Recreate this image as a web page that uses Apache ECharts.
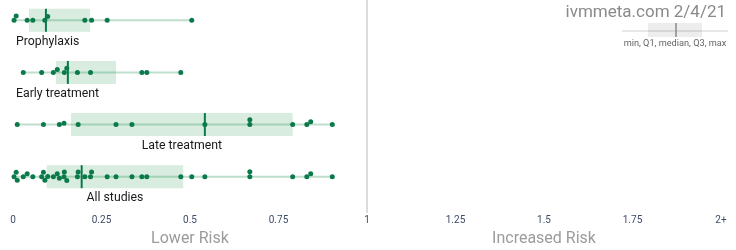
<!DOCTYPE html>
<html><head><meta charset="utf-8">
<script src="https://cdn.jsdelivr.net/npm/echarts@6/dist/echarts.min.js"></script>
<style>html,body{margin:0;padding:0;background:#fff}#c{width:736px;height:250px}</style>
</head><body><div id="c"></div>
<script>
// ---- data ----
const groupNames = ['Prophylaxis', 'Early treatment', 'Late treatment', 'All studies'];
const prophylaxis = [0.003, 0.009, 0.040, 0.056, 0.090, 0.098, 0.203, 0.222, 0.266, 0.505];
const earlyTreatment = [0.029, 0.081, 0.114, 0.125, 0.145, 0.152, 0.182, 0.219, 0.364, 0.378, 0.474];
const lateTreatment = [0.012, 0.086, 0.131, 0.144, 0.184, 0.291, 0.336, 0.542, 0.669, 0.669, 0.790, 0.830, 0.841, 0.902];
const allStudies = [0.003, 0.009, 0.012, 0.029, 0.040, 0.056, 0.081, 0.086, 0.090, 0.098, 0.114, 0.125, 0.131, 0.144, 0.145, 0.152, 0.182, 0.184, 0.203, 0.219, 0.222, 0.266, 0.291, 0.336, 0.364, 0.378, 0.474, 0.505, 0.542, 0.669, 0.669, 0.790, 0.830, 0.841, 0.902];
const q1Values = [0.045, 0.121, 0.164, 0.095];
const medianValues = [0.093, 0.155, 0.542, 0.194];
const q3Values = [0.218, 0.291, 0.790, 0.481];
const tickValues = [0, 0.25, 0.5, 0.75, 1, 1.25, 1.5, 1.75, 2];
const tickLabels = ['0', '0.25', '0.5', '0.75', '1', '1.25', '1.5', '1.75', '2+'];
const regionLabels = ['Lower Risk', 'Increased Risk'];
const regionCenters = [0.5, 1.5];
const siteLabel = 'ivmmeta.com 2/4/21';
const legendLabel = 'min, Q1, median, Q3, max';

const groups = [prophylaxis, earlyTreatment, lateTreatment, allStudies];

const DOT = '#0b7a4b';
const chart = echarts.init(document.getElementById('c'), null, {renderer: 'canvas'});

const measureCtx = document.createElement('canvas').getContext('2d');
const LABEL_FONT = '12.3px Roboto';

const boxData = groups.map((arr, g) => [g, Math.min(...arr), q1Values[g], medianValues[g], q3Values[g], Math.max(...arr)]);

function renderBox(params, api) {
  const g = api.value(0);
  const pMin = api.coord([api.value(1), g]);
  const pQ1 = api.coord([api.value(2), g]);
  const pMed = api.coord([api.value(3), g]);
  const pQ3 = api.coord([api.value(4), g]);
  const pMax = api.coord([api.value(5), g]);
  const p0 = api.coord([0, g]);
  const y = pMin[1];
  const h = 23;
  const name = groupNames[g];
  measureCtx.font = LABEL_FONT;
  const tw = measureCtx.measureText(name).width;
  const bw = pQ3[0] - pQ1[0];
  let tx, align;
  if (bw >= tw) { tx = (pQ1[0] + pQ3[0]) / 2; align = 'center'; }
  else { tx = p0[0] + 3; align = 'left'; }
  return {
    type: 'group',
    children: [
      {type: 'rect', shape: {x: pQ1[0], y: y - h / 2, width: bw, height: h}, style: {fill: '#d8ecdf'}},
      {type: 'line', shape: {x1: pMin[0], y1: y, x2: pMax[0], y2: y}, style: {stroke: 'rgba(20,140,80,0.28)', lineWidth: 2}},
      {type: 'line', shape: {x1: pMed[0], y1: y - h / 2, x2: pMed[0], y2: y + h / 2}, style: {stroke: DOT, lineWidth: 2}},
      {type: 'text', style: {x: tx, y: y + 21.7, text: name, fill: '#1a1a1a', font: LABEL_FONT, align: align, verticalAlign: 'middle'}}
    ]
  };
}

const option = {
  animation: false,
  grid: {left: 13, right: 15, top: 0, height: 213},
  xAxis: {
    type: 'value', min: 0, max: 2, interval: 0.25,
    axisLine: {show: false}, axisTick: {show: false}, splitLine: {show: false},
    axisLabel: {
      margin: 2, fontSize: 10, color: '#3d4b68', fontFamily: 'Roboto',
      showMinLabel: true, showMaxLabel: true,
      formatter: v => { const i = tickValues.findIndex(t => Math.abs(t - v) < 1e-9); return i >= 0 ? tickLabels[i] : ''; }
    }
  },
  yAxis: {type: 'value', min: -0.389, max: 3.697, inverse: true, show: false},
  series: [
    {
      type: 'custom', renderItem: renderBox, data: boxData, silent: true, z: 2,
      markLine: {
        silent: true, symbol: 'none', label: {show: false},
        lineStyle: {color: '#dcdcdc', width: 2, type: 'solid'},
        data: [{xAxis: 1}]
      }
    },
    {type: 'scatter', data: [], symbolSize: 5, itemStyle: {color: DOT, opacity: 1}, silent: true, z: 3}
  ]
};
chart.setOption(option);

// beeswarm-style vertical dodge computed in pixel space
const pxPerUnitY = chart.convertToPixel({yAxisIndex: 0}, 1) - chart.convertToPixel({yAxisIndex: 0}, 0);
function swarm(vals, g) {
  const D = 4.8;
  const pts = vals.map(v => ({v: v, x: chart.convertToPixel({xAxisIndex: 0}, v), y: 0})).sort((a, b) => a.x - b.x);
  const placed = [];
  pts.forEach(p => {
    const near = placed.filter(q => Math.abs(q.x - p.x) < D);
    const cands = [0];
    near.forEach(q => { const dy = Math.sqrt(D * D - (q.x - p.x) ** 2); cands.push(q.y + dy, q.y - dy); });
    cands.sort((a, b) => Math.abs(a) - Math.abs(b) || a - b);
    for (const c of cands) {
      if (near.every(q => (q.x - p.x) ** 2 + (q.y - c) ** 2 >= D * D - 1e-6)) { p.y = c; break; }
    }
    placed.push(p);
  });
  return pts.map(p => [p.v, g + p.y / pxPerUnitY]);
}
let pts = [];
groups.forEach((arr, g) => { pts = pts.concat(swarm(arr, g)); });

const graphics = regionLabels.map((t, i) => ({
  type: 'text', x: chart.convertToPixel({xAxisIndex: 0}, regionCenters[i]), y: 239,
  style: {text: t, fill: '#9b9b9b', font: '16px Roboto', align: 'center', verticalAlign: 'middle'}
}));
graphics.push(
  {type: 'text', x: 726, y: 13, style: {text: siteLabel, fill: '#8a8a8a', font: '17px Roboto', align: 'right', verticalAlign: 'middle'}},
  {type: 'line', shape: {x1: 622, y1: 31, x2: 728, y2: 31}, style: {stroke: '#d0d0d0', lineWidth: 1}},
  {type: 'rect', shape: {x: 648, y: 23, width: 54, height: 14}, style: {fill: 'rgba(0,0,0,0.07)'}},
  {type: 'line', shape: {x1: 676, y1: 23, x2: 676, y2: 37}, style: {stroke: '#888', lineWidth: 1.5}},
  {type: 'text', x: 675, y: 44, style: {text: legendLabel, fill: '#666', font: '9.2px Roboto', align: 'center', verticalAlign: 'middle'}}
);

chart.setOption({series: [{}, {data: pts}], graphic: graphics});
</script>
</body></html>
